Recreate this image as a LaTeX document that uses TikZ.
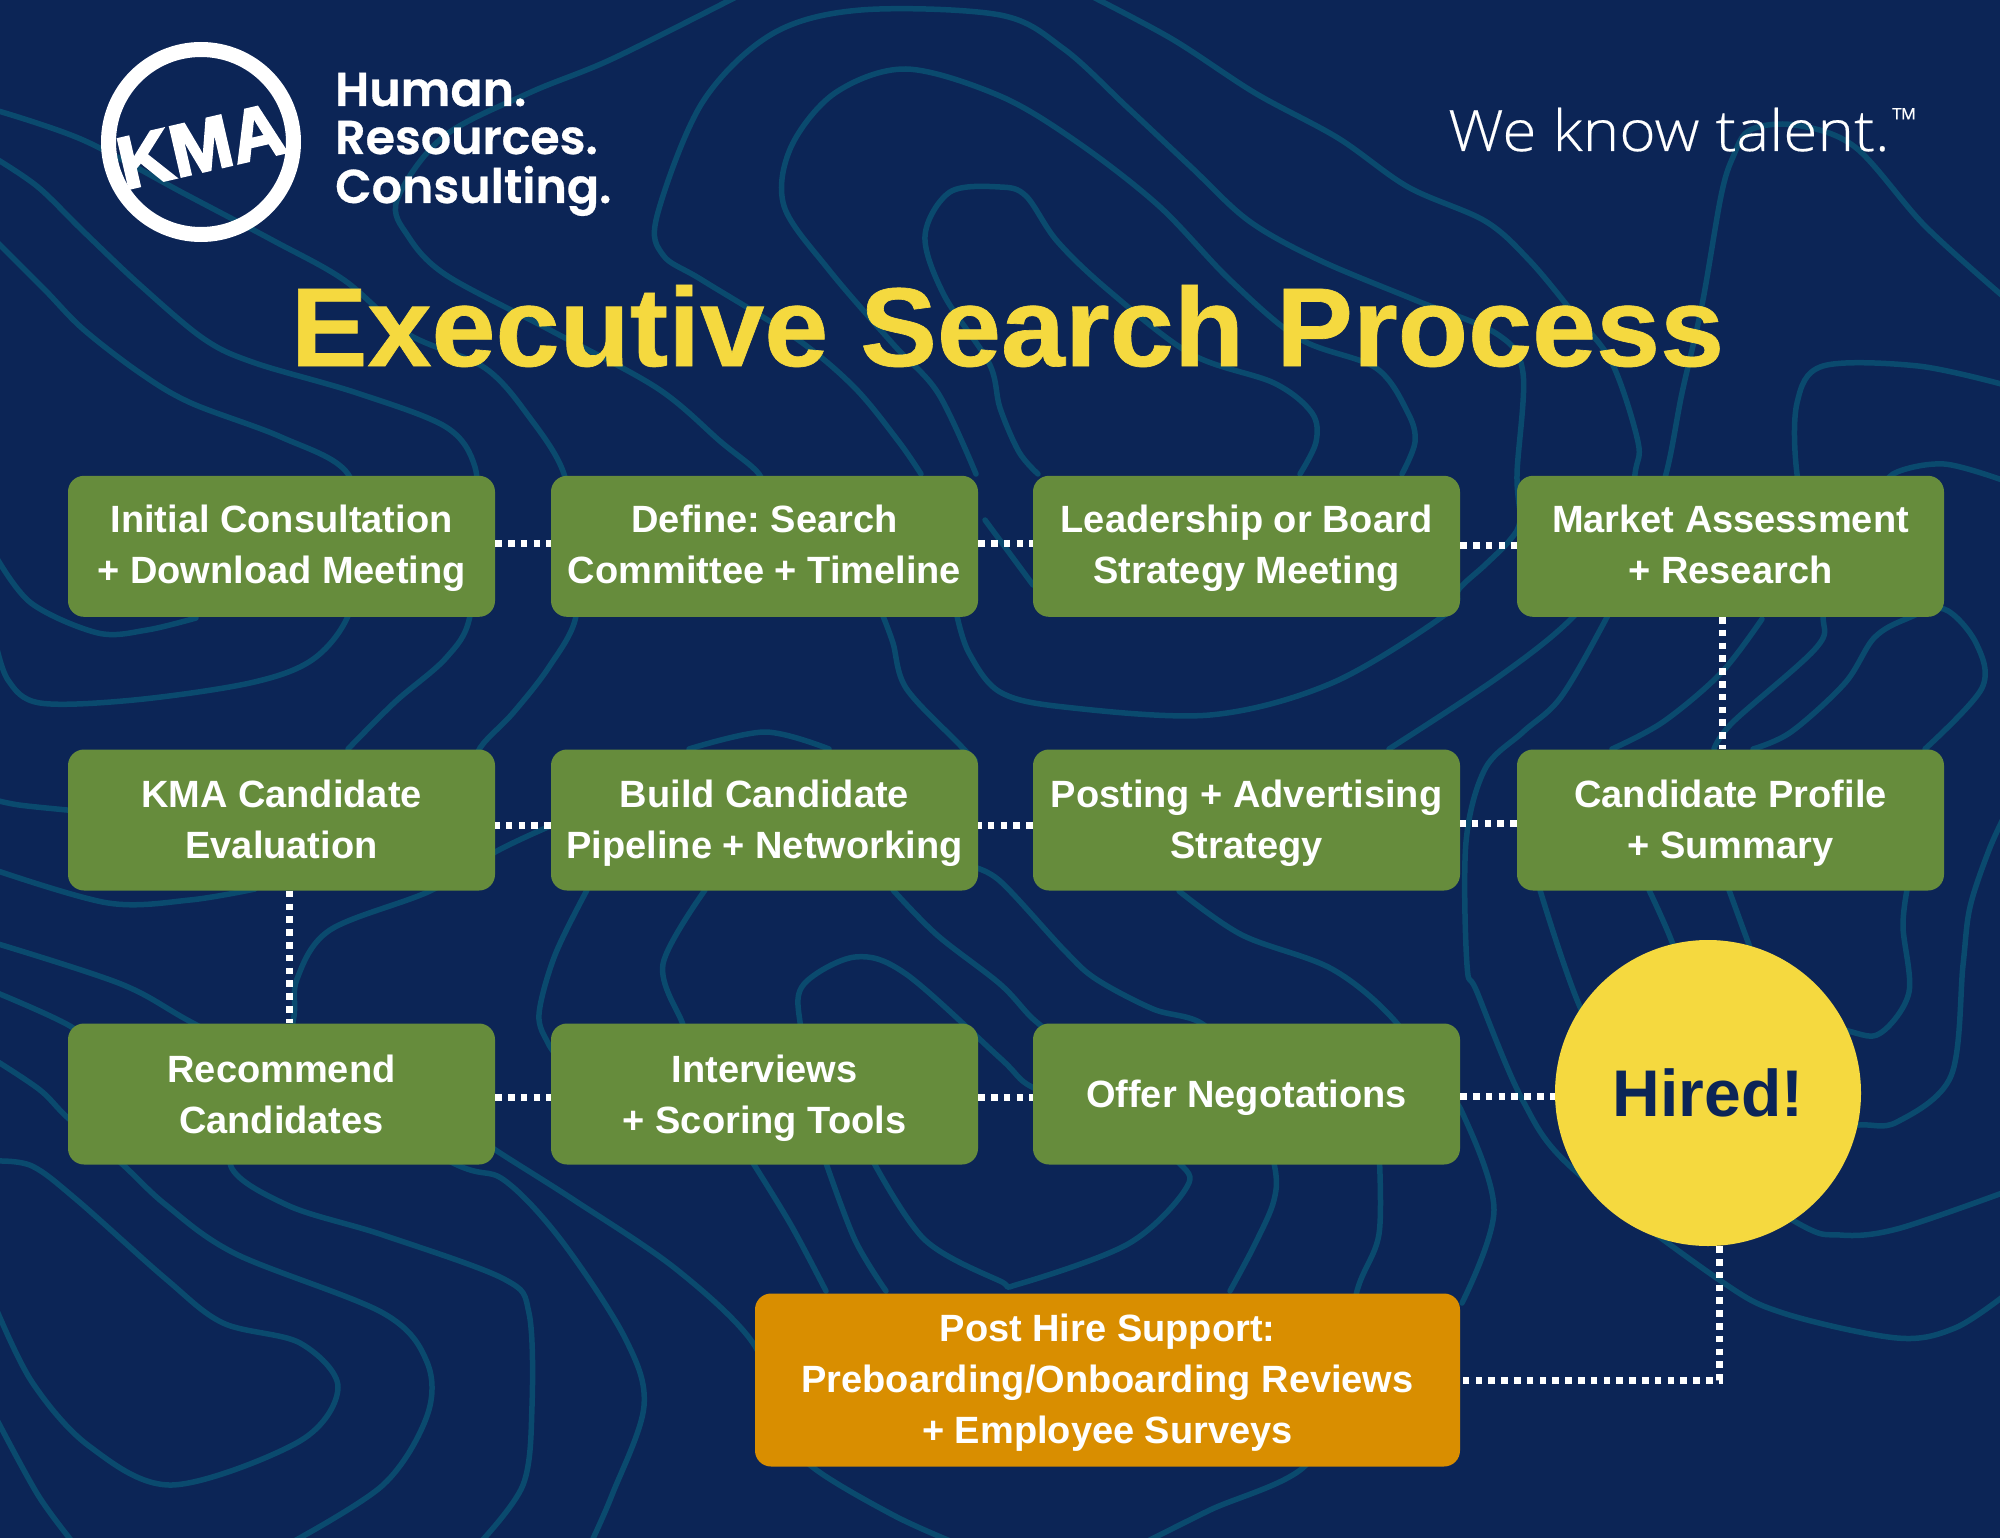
\documentclass[tikz,border=0pt]{standalone}
\usepackage{fontspec}
\frenchspacing
\setmainfont{Liberation Sans}
\newfontfamily\boxfont{Liberation Sans}[BoldFont={Liberation Sans Bold}]
\newfontfamily\titlefont{Liberation Sans Bold}[FakeStretch=1.028,FakeBold=0.6]
\newfontfamily\kmafont{Liberation Sans Bold}[FakeBold=3]
\newfontfamily\logofont{Poppins}[UprightFont={* SemiBold},FakeBold=0.6]
\newfontfamily\tagfont{Open Sans}[UprightFont={* Light},FakeStretch=1.09,FakeBold=0.3]
\definecolor{navy}{HTML}{0C2556}
\definecolor{topo}{HTML}{0A4A6E}
\definecolor{leaf}{HTML}{668C3C}
\definecolor{amberbox}{HTML}{D98E00}
\definecolor{sun}{HTML}{F5D93F}
\tikzset{
  contour/.style={draw=topo,line width=5.5pt,line cap=round,line join=round},
  stepbox/.style={fill=leaf,text=white,rounded corners=16pt,minimum width=427pt,minimum height=141pt,inner sep=0pt,align=center,
    font=\boxfont\bfseries\fontsize{38}{51}\selectfont},
  postbox/.style={stepbox,fill=amberbox,minimum width=705pt,minimum height=173pt},
  hiredcirc/.style={circle,fill=sun,text=navy,minimum size=306pt,inner sep=0pt,font=\boxfont\bfseries\fontsize{66}{70}\selectfont},
  dotlink/.style={draw=white,line width=7pt,dash pattern=on 6.6pt off 6.2pt},
  logoline/.style={text=white,anchor=base west,inner sep=0pt,font=\logofont\fontsize{47.5}{47.5}\selectfont},
}
\newcommand{\topo}[1]{\draw[contour] plot[smooth,tension=.55] coordinates {#1};}
% one text line with a 51pt strut, lowered by #1 pt inside its box
\newcommand{\lines}[2][4]{\rule[\dimexpr#1pt-15.3pt\relax]{0pt}{51pt}#2}
\begin{document}
\begin{tikzpicture}[x=1pt,y=-1pt]
\useasboundingbox (0,0) rectangle (2000,1538);
\fill[navy] (0,0) rectangle (2000,1538);
\begin{scope}
\clip (0,0) rectangle (2000,1538);
\topo{(-5,110)(83,140)(185,194)(274,241)(344,280)(408,334)(485,368)(530,418)(564,474)(572,545)(576,616)(549,667)(513,713)(480,748)(470,780)}
\topo{(-5,158)(38,187)(83,231)(140,285)(204,339)(255,363)(357,393)(446,427)(475,467)(475,520)(470,616)(446,658)(395,702)(348,749)}
\topo{(-5,240)(45,290)(83,329)(140,373)(191,403)(281,437)(348,474)(360,550)(348,616)(312,660)(250,683)(134,700)(40,703)(8,680)(-5,640)}
\topo{(-5,555)(31,603)(98,633)(147,630)(196,618)}
\topo{(740,-5)(612,59)(529,93)(443,137)(397,200)(408,236)(446,275)(548,329)(657,388)(721,442)(759,474)(765,500)}
\topo{(921,474)(899,442)(855,388)(797,339)(702,280)(663,255)(657,216)(702,103)(772,34)(861,10)(1000,15)(1064,49)(1128,108)(1191,167)(1249,221)(1319,260)(1415,300)(1497,334)(1523,373)(1517,474)(1520,520)(1510,540)(1485,565)(1459,589)(1446,614)(1332,683)(1210,715)(1064,707)(1000,692)(969,653)(957,616)}
\topo{(976,474)(938,393)(893,344)(829,270)(784,206)(791,147)(835,93)(906,69)(1000,96)(1077,142)(1159,206)(1230,280)(1300,339)(1376,368)(1408,413)(1415,442)(1402,474)}
\topo{(1038,474)(1019,452)(1000,408)(989,363)(944,295)(925,236)(950,192)(1000,187)(1026,196)(1057,241)(1108,290)(1191,354)(1274,383)(1312,413)(1316,442)(1300,474)}
\topo{(1089,-5)(1172,39)(1255,93)(1338,138)(1408,187)(1485,221)(1529,260)(1574,314)(1612,363)(1638,442)(1635,474)(1625,550)(1571,619)(1497,678)(1389,749)}
\topo{(2005,298)(1925,226)(1855,147)(1795,125)(1750,130)(1733,157)(1721,196)(1702,305)(1682,393)(1666,474)(1640,550)(1606,619)(1561,697)(1523,732)(1485,769)(1466,842)(1467,965)(1477,992)(1522,1099)(1572,1168)(1718,1279)(1783,1313)(1897,1338)(1955,1328)(2005,1295)}
\topo{(2005,385)(1918,366)(1823,366)(1797,403)(1797,474)(1815,550)(1823,616)(1816,648)(1733,722)(1714,749)}
\topo{(2005,481)(1944,464)(1893,474)(1880,500)}
\topo{(1753,749)(1791,732)(1845,683)(1874,638)(1906,619)(1944,609)(1976,643)(1982,688)(1925,749)}
\topo{(1762,619)(1721,673)(1663,722)(1612,749)}
\topo{(1540,890)(1580,1007)(1640,1120)(1794,1221)(1840,1235)(1897,1229)(2005,1192)}
\topo{(1649,890)(1672,942)(1690,1000)}
\topo{(1729,890)(1748,942)(1770,1000)(1852,1032)(1882,1032)(1909,992)(1903,927)(1907,890)}
\topo{(1800,1130)(1859,1125)(1897,1122)(1951,1076)(1963,965)(1970,907)(1989,850)(2005,815)}
\topo{(-5,800)(19,805)(67,810)(90,812)}
\topo{(-5,870)(108,903)(190,900)(255,889)}
\topo{(548,827)(497,851)(430,891)(330,930)(297,979)(293,1022)(270,1100)(230,1163)(287,1205)(383,1235)(504,1279)(529,1313)(532,1406)(523,1485)(478,1545)}
\topo{(-5,992)(70,1026)(110,1060)}
\topo{(-5,1060)(40,1090)(68,1118)(121,1163)(166,1205)(236,1254)(383,1313)(427,1362)(427,1416)(383,1485)(287,1545)}
\topo{(-5,943)(121,984)(191,1022)(300,1080)(453,1163)(504,1180)(561,1240)(625,1338)(644,1406)(612,1495)(590,1545)}
\topo{(470,1130)(494,1149)(574,1200)(676,1269)(753,1343)(780,1420)(810,1465)(893,1515)(960,1545)}
\topo{(-5,1161)(32,1166)(77,1200)(166,1279)(223,1323)(300,1343)(338,1387)(300,1441)(172,1485)(89,1446)(32,1382)(-5,1306)}
\topo{(-5,1416)(38,1495)(75,1545)}
\topo{(587,890)(555,955)(539,1014)(548,1043)(560,1060)}
\topo{(705,890)(663,964)(682,1022)(690,1040)}
\topo{(874,1163)(925,1240)(1000,1281)(1019,1284)(1128,1244)(1185,1190)(1179,1163)(1100,1110)(1032,1087)(1000,1058)(906,974)(855,957)(804,984)(800,1022)(820,1100)(874,1163)}
\topo{(753,1163)(791,1225)(826,1291)}
\topo{(826,1163)(855,1240)(886,1291)}
\topo{(893,890)(937,935)(1000,984)(1032,1018)(1060,1040)}
\topo{(1379,1150)(1379,1234)(1357,1291)(1340,1380)(1306,1465)(1210,1510)(1140,1545)}
\topo{(969,866)(1000,881)(1064,950)(1096,979)(1153,1009)(1204,1025)(1250,1080)(1274,1163)(1274,1200)(1255,1244)(1230,1291)}
\topo{(1179,891)(1242,935)(1332,969)(1395,1021)(1440,1090)(1462,1112)(1494,1210)(1462,1303)}
\topo{(689,749)(765,732)(829,749)}
\topo{(883,616)(893,643)(906,688)(957,742)(975,760)}
\topo{(985,520)(1033,585)}
\end{scope}

% logo
\draw[white,line width=15pt] (201,142) circle[radius=92.5];
\node[rotate=13,text=white,inner sep=0pt,font=\kmafont\fontsize{74}{74}\selectfont] (kma) at (201,146) {KMA};
\node[logoline] (human) at (335,106) {Human.};
\node[logoline] (resources) at (335,154) {Resources.};
\node[logoline] (consulting) at (335,203) {Consulting.};
\node[text=white,anchor=base west,inner sep=0pt,font=\tagfont\fontsize{57}{57}\selectfont] (tag) at (1448,151) {We know talent.};
\node[text=white,anchor=base west,inner sep=0pt,font=\tagfont\fontsize{32}{32}\selectfont] (tm) at (1892,131) {™};
\node[text=sun,anchor=base west,inner sep=0pt,font=\titlefont\fontsize{112}{112}\selectfont] (title) at (290.5,366) {Executive Search Process};

\node[stepbox] (n1) at (281.5,546.3) {\lines[1.5]{Initial Consultation}\\\lines[1.5]{+ Download Meeting}};
\node[stepbox] (n2) at (764.5,546.3) {\lines[1.5]{Define: Search}\\\lines[1.5]{Committee + Timeline}};
\node[stepbox] (n3) at (1246.5,546.3) {\lines[1.5]{Leadership or Board}\\\lines[1.5]{Strategy Meeting}};
\node[stepbox] (n4) at (1730.5,546.3) {\lines[1.5]{Market Assessment}\\\lines[1.5]{+ Research}};
\node[stepbox] (n8) at (281.5,820) {\lines[2.8]{KMA Candidate}\\\lines[2.8]{Evaluation}};
\node[stepbox] (n7) at (764.5,820) {\lines[2.8]{Build Candidate}\\\lines[2.8]{Pipeline + Networking}};
\node[stepbox] (n6) at (1246.5,820) {\lines[2.8]{Posting + Advertising}\\\lines[2.8]{Strategy}};
\node[stepbox] (n5) at (1730.5,820) {\lines[2.8]{Candidate Profile}\\\lines[2.8]{+ Summary}};
\node[stepbox] (n9) at (281.5,1094) {\lines{Recommend}\\\lines{Candidates}};
\node[stepbox] (n10) at (764.5,1094) {\lines{Interviews}\\\lines{+ Scoring Tools}};
\node[stepbox] (n11) at (1246.5,1094) {\lines[3]{Offer Negotations}};
\node[hiredcirc] (hired) at (1708,1093) {Hired!};
\node[postbox] (post) at (1107.5,1380) {\lines[2]{Post Hire Support:}\\\lines[2]{Preboarding/Onboarding Reviews}\\\lines[2]{+ Employee Surveys}};

\draw[dotlink] ([yshift=3pt]n1.east) -- ([yshift=3pt]n2.west);
\draw[dotlink] ([yshift=3pt]n2.east) -- ([yshift=3pt]n3.west);
\draw[dotlink] ([yshift=1pt]n3.east) -- ([yshift=1pt]n4.west);
\draw[dotlink] ([xshift=-8.5pt]n4.south) -- ([xshift=-8.5pt]n5.north);
\draw[dotlink] ([yshift=-3pt]n5.west) -- ([yshift=-3pt]n6.east);
\draw[dotlink] ([yshift=-5pt]n6.west) -- ([yshift=-5pt]n7.east);
\draw[dotlink] ([yshift=-5pt]n7.west) -- ([yshift=-5pt]n8.east);
\draw[dotlink] ([xshift=7.5pt]n8.south) -- ([xshift=7.5pt]n9.north);
\draw[dotlink] ([yshift=-3pt]n9.east) -- ([yshift=-3pt]n10.west);
\draw[dotlink] ([yshift=-3pt]n10.east) -- ([yshift=-3pt]n11.west);
\draw[dotlink] ([yshift=-2pt]n11.east) -- (hired.west |- 0,1096);
\draw[dotlink] ([xshift=11.5pt]hired.south) |- (post.east);
\end{tikzpicture}
\end{document}
